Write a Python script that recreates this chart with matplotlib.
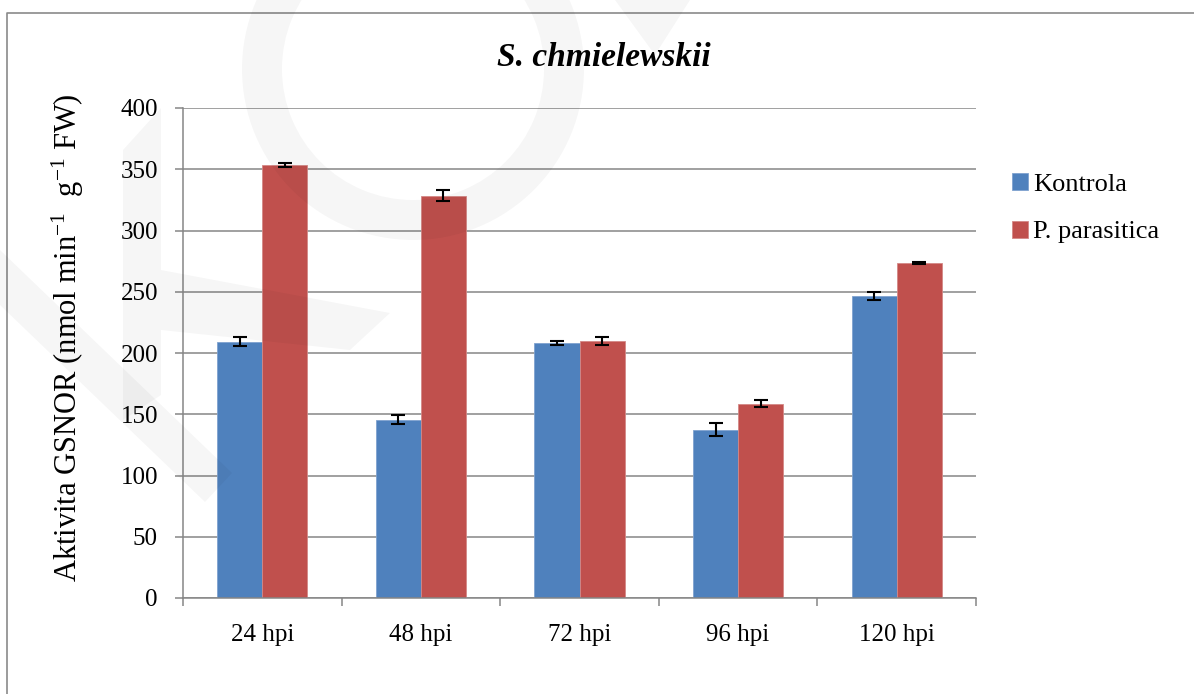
import matplotlib.pyplot as plt
import numpy as np
from matplotlib.patches import Wedge, Polygon
from matplotlib.lines import Line2D

plt.rcParams['font.family'] = ['Liberation Serif', 'DejaVu Serif']
plt.rcParams['mathtext.fontset'] = 'custom'
plt.rcParams['mathtext.rm'] = 'Liberation Serif'
plt.rcParams['mathtext.it'] = 'Liberation Serif:italic'

# data
categories = ['24 hpi', '48 hpi', '72 hpi', '96 hpi', '120 hpi']
kontrola = [209.3, 145.5, 208.3, 137.5, 246.5]
kontrola_err = [3.4, 3.5, 1.9, 5.3, 3.4]
parasitica = [353.5, 328.5, 209.9, 158.7, 273.5]
parasitica_err = [1.9, 4.3, 3.0, 2.7, 1.0]
yticks = [0, 50, 100, 150, 200, 250, 300, 350, 400]

W, H = 1194, 694
fig = plt.figure(figsize=(W / 100, H / 100), dpi=100)
ax = fig.add_axes([183 / W, 1 - 598 / H, (976 - 183) / W, (598 - 108) / H])

grey = '#868686'
blue = '#4F81BD'
red = '#C0504D'
bw = 0.284
x = np.arange(len(categories))

ax.bar(x - bw / 2, kontrola, bw, color=blue, edgecolor='#7FA2CF', linewidth=0.6,
       label='Kontrola', zorder=2)
ax.bar(x + bw / 2, parasitica, bw, color=red, edgecolor='#D48886', linewidth=0.6,
       label='P. parasitica', zorder=2)
ax.errorbar(x - bw / 2, kontrola, yerr=kontrola_err, fmt='none', ecolor='black',
            elinewidth=1.5, capsize=4.8, capthick=1.5, zorder=3)
ax.errorbar(x + bw / 2, parasitica, yerr=parasitica_err, fmt='none', ecolor='black',
            elinewidth=1.5, capsize=4.8, capthick=1.5, zorder=3)

ax.set_xlim(-0.5, len(categories) - 0.5)
ax.set_ylim(0, 400)
ax.set_yticks(yticks)
ax.yaxis.grid(True, color=grey, linewidth=1.1, zorder=0)
ax.set_axisbelow(True)

ax.set_xticks(np.arange(-0.5, len(categories), 1.0))
ax.set_xticklabels([])
ax.set_xticks(x, minor=True)
ax.set_xticklabels(categories, minor=True)
ax.tick_params(axis='x', which='major', length=6, width=1.1, color=grey, direction='out')
ax.tick_params(axis='x', which='minor', length=0, pad=19, labelsize=18)
ax.tick_params(axis='y', length=6, width=1.1, color=grey, direction='out', pad=12,
               labelsize=18)

for s in ['top', 'right']:
    ax.spines[s].set_visible(False)
for s in ['left', 'bottom']:
    ax.spines[s].set_color(grey)
    ax.spines[s].set_linewidth(1.1)

fig.text(604 / W, 1 - 57 / H, 'S. chmielewskii', ha='center', va='center',
         fontsize=24, fontweight='bold', fontstyle='italic')
fig.text(68 / W, 1 - 338 / H, r'Aktivita GSNOR (nmol min$^{-1}$  g$^{-1}$ FW)',
         rotation=90, ha='center', va='center', fontsize=22)

ax.legend(loc='upper left', bbox_to_anchor=(1012 / W, 1 - 173 / H),
          bbox_transform=fig.transFigure, frameon=False, fontsize=19,
          handlelength=0.6, handleheight=0.6, handletextpad=0.2,
          labelspacing=0.95, borderpad=0, borderaxespad=0)

# chart frame (top and left edges)
fig.add_artist(Line2D([7 / W, 7 / W, 1.0], [0.0, 1 - 13 / H, 1 - 13 / H],
                      transform=fig.transFigure, color='#8a8a8a', linewidth=1.2))

# faint watermark
def px(pts):
    return [(a / 100, (H - b) / 100) for a, b in pts]

wm = dict(facecolor='black', edgecolor='none', alpha=0.035,
          transform=fig.dpi_scale_trans, zorder=5)
fig.add_artist(Wedge(px([(413, 69)])[0], 1.71, 0, 360, width=0.40, **wm))
fig.add_artist(Polygon(px([(0, 250), (232, 473), (205, 502), (0, 305)]), **wm))
fig.add_artist(Polygon(px([(123, 150), (161, 108), (161, 395), (123, 420)]), **wm))
fig.add_artist(Polygon(px([(161, 270), (390, 313), (350, 350), (161, 330)]), **wm))
fig.add_artist(Polygon(px([(615, 0), (690, 0), (655, 55)]), **wm))

fig.savefig('out.png', dpi=100)
